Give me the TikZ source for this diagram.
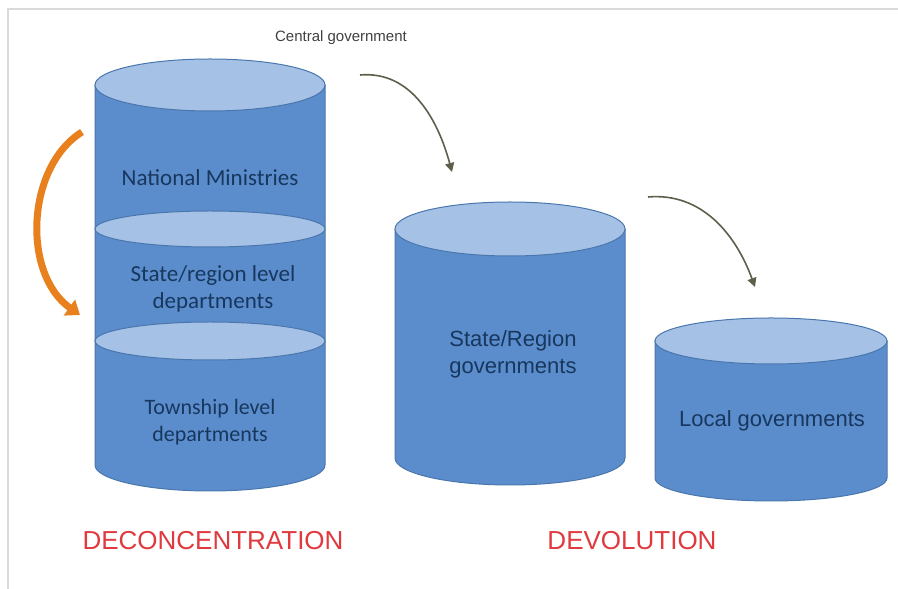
\documentclass[tikz,border=0pt]{standalone}
\usepackage{fontspec}
\setmainfont{Liberation Sans}
\newfontfamily\calibri{Carlito}
\usepackage{tikz}
\usetikzlibrary{
  arrows.meta
}
\definecolor{barrelside}{HTML}{5B8DCC}
\definecolor{barreltop}{HTML}{A5C2E6}
\definecolor{barrelrim}{HTML}{4A76AE}
\definecolor{labelink}{HTML}{17375E}
\definecolor{modered}{HTML}{E0393E}
\definecolor{arrowgrey}{HTML}{5E5E4A}
\definecolor{loopcolour}{HTML}{E8801E}
\definecolor{framegrey}{HTML}{DADADA}
\tikzset{
  x=1pt,y=1pt,
  barrel body/.style={fill=barrelside,draw=barrelrim,line width=1pt},
  barrel lid/.style={fill=barreltop,draw=barrelrim,line width=1pt},
  pics/barrel/.style args={#1/#2/#3}{code={
    \path[barrel body] (-#1,0) -- (-#1,-#2)
      arc[start angle=180,end angle=360,x radius=#1,y radius=#3] -- (#1,0) -- cycle;
    \path[barrel lid] (0,0) ellipse[x radius=#1,y radius=#3];
  }},
  barrel label/.style={text=labelink,align=center,font=\fontsize{22}{27}\selectfont},
  stack label/.style={barrel label,font=\calibri\fontsize{23}{27}\selectfont},
  shift arrow/.style={draw=arrowgrey,line width=1.6pt,-{Triangle[length=9pt,width=9pt]}},
  mode label/.style={text=modered,font=\fontsize{26}{30}\selectfont},
}

\begin{document}
\begin{tikzpicture}
\useasboundingbox (0,0) rectangle (898,589);
\draw[framegrey,line width=1.5pt] (8,0) -- (8,580) -- (898,580);
% the three barrels
\pic at (210,504) {barrel=115/380/26};
\foreach \lidy/\lidr in {360/18, 248/19}
  \path[barrel lid] (210,\lidy) ellipse[x radius=115,y radius=\lidr];
\pic at (510,360) {barrel=115/229/27};
\pic at (771,248) {barrel=116/137/23};
% labels
\node[stack label] (ministries) at (210,411) {National Ministries};
\node[stack label] (statedept) at (213,300) {State/region level\\departments};
\node[stack label,font=\calibri\fontsize{22}{27}\selectfont] (township) at (210,167) {Township level\\departments};
\node[barrel label] (stategov) at (513,235) {State/Region\\governments};
\node[barrel label] (localgov) at (772,168) {Local governments};
\node[text=black!75,font=\fontsize{15}{17}\selectfont] (central) at (341,551) {Central government};
\node[mode label] (deconc) at (213,48) {DECONCENTRATION};
\node[mode label] (devol) at (632,48) {DEVOLUTION};
% arrows
\coordinate (a1) at (360,514);
\coordinate (a2) at (452,417);
\coordinate (b1) at (648,392);
\coordinate (b2) at (755,302);
\coordinate (c1) at (82,457);
\coordinate (c2) at (80,274);
\draw[shift arrow] (a1) to[out=5,in=105] (a2);
\draw[shift arrow] (b1) to[out=5,in=110] (b2);
\draw[loopcolour,line width=7pt,-{Triangle[length=13pt,width=19pt]}]
  (c1) .. controls (26,422) and (22,315) .. (c2);
\end{tikzpicture}
\end{document}
